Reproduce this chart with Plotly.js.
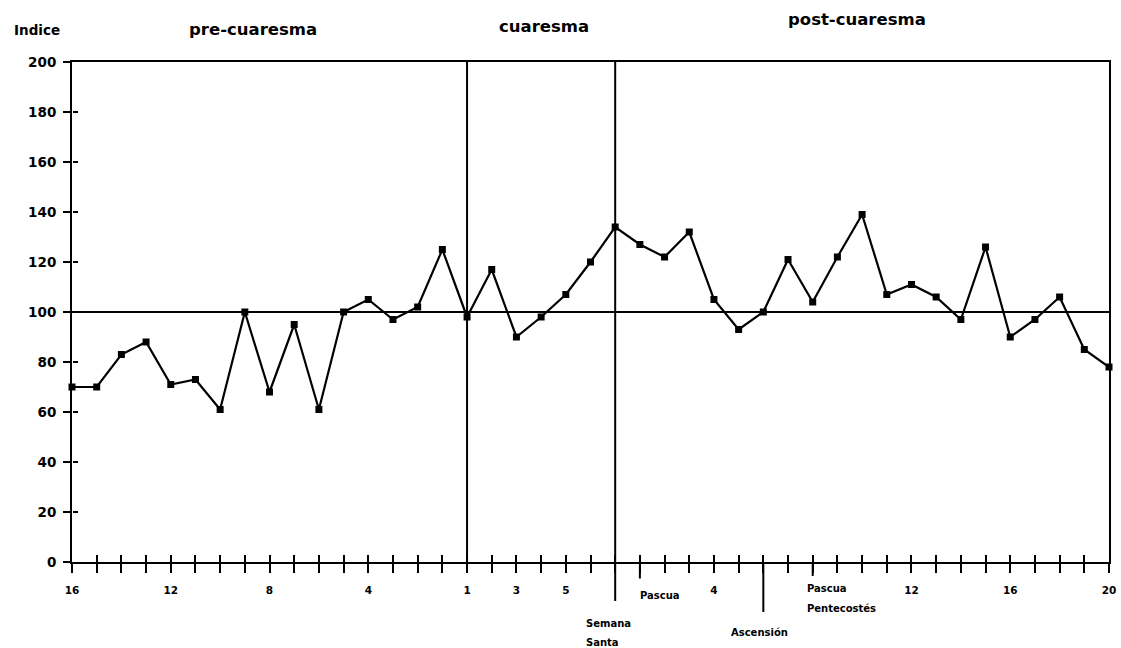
<!DOCTYPE html>
<html>
<head>
<meta charset="utf-8">
<script src="https://cdn.plot.ly/plotly-3.0.1.min.js"></script>
<style>html,body{margin:0;padding:0;background:#fff;}#chart{width:1121px;height:648px;}</style>
</head>
<body>
<div id="chart"></div>
<script>
// Week labels for each period
const preWeeks  = ['16','15','14','13','12','11','10','9','8','7','6','5','4','3','2','1'];
const lentWeeks = ['1','2','3','4','5','6'];
const holyWeek  = ['SS'];
const postWeeks = ['1','2','3','4','5','6','7','8','9','10','11','12','13','14','15','16','17','18','19','20'];

// Index values
const preValues  = [70, 70, 83, 88, 71, 73, 61, 100, 68, 95, 61, 100, 105, 97, 102, 125];
const lentValues = [98, 117, 90, 98, 107, 120];
const holyValue  = [134];
const postValues = [127, 122, 132, 105, 93, 100, 121, 104, 122, 139, 107, 111, 106, 97, 126, 90, 97, 106, 85, 78];

// Labelled ticks on the x axis
const shownTickLabels = ['16','12','8','4','1(c)','3(c)','5(c)','4(p)','12(p)','16(p)','20(p)'];

// Events marked below the axis
const eventKeys = ['SS', '1(p)', '6(p)', '8(p)'];

const baseline = 100;
const periodTitles = ['pre-cuaresma', 'cuaresma', 'post-cuaresma'];

// Build keys
const keys = [].concat(
  preWeeks, lentWeeks.map(w => w + '(c)'), holyWeek, postWeeks.map(w => w + '(p)')
);
const labels = [].concat(preWeeks, lentWeeks, [''], postWeeks);
const values = [].concat(preValues, lentValues, holyValue, postValues);
const xs = keys.map((k, i) => i);
const idx = k => keys.indexOf(k);

const tickText = keys.map((k, i) => shownTickLabels.includes(k) ? labels[i] : '');

const FAM = 'DejaVu Sans, Verdana, sans-serif';
const f = (size) => ({family: FAM, size: size, color: '#000', weight: 'bold'});

const trace = {
  x: xs, y: values, type: 'scatter', mode: 'lines+markers',
  line: {color: '#000', width: 2.2},
  marker: {color: '#000', size: 7, symbol: 'square'},
  cliponaxis: false, hoverinfo: 'skip'
};

const lentStart = idx('1(c)');
const holyIdx = idx('SS');

const shapes = [
  {type: 'line', xref: 'paper', yref: 'y', x0: 0, x1: 1, y0: baseline, y1: baseline, line: {color: '#000', width: 2}},
  {type: 'line', xref: 'x', yref: 'paper', x0: lentStart, x1: lentStart, y0: 0, y1: 1, line: {color: '#000', width: 2}},
  {type: 'line', xref: 'x', yref: 'paper', x0: holyIdx, x1: holyIdx, y0: 0, y1: 1, line: {color: '#000', width: 2}}
];
const eventDepth = [-0.078, -0.033, -0.1, -0.028];
eventKeys.forEach((k, j) => {
  shapes.push({type: 'line', xref: 'x', yref: 'paper', x0: idx(k), x1: idx(k), y0: 0, y1: eventDepth[j], line: {color: '#000', width: 2}});
});

const ann = (text, x, y, xanchor, size, xref) => ({
  text: text, xref: xref || 'x', yref: 'paper', x: x, y: y, xanchor: xanchor, yanchor: 'middle',
  showarrow: false, font: f(size)
});

const annotations = [
  ann('Indice', -0.0575, 1.064, 'left', 13.5, 'paper'),
  ann(periodTitles[0], 7.33, 1.064, 'center', 16.5),
  ann(periodTitles[1], 19.1, 1.07, 'center', 16.5),
  ann(periodTitles[2], 31.8, 1.084, 'center', 16.5),
  // events
  ann('Semana', holyIdx - 1.25, -0.122, 'left', 10),
  ann('Santa', holyIdx - 1.25, -0.16, 'left', 10),
  ann('Pascua', idx('1(p)') - 0.08, -0.066, 'left', 10),
  ann('Ascensión', idx('6(p)') - 0.15, -0.14, 'center', 10),
  ann('Pascua', idx('8(p)') - 0.33, -0.052, 'left', 10),
  ann('Pentecostés', idx('8(p)') - 0.33, -0.092, 'left', 10)
];

const layout = {
  width: 1121, height: 648,
  margin: {l: 72, r: 12, t: 62, b: 86},
  paper_bgcolor: '#fff', plot_bgcolor: '#fff',
  showlegend: false,
  font: f(12),
  xaxis: {
    range: [0, keys.length - 1], tickvals: xs, ticktext: tickText,
    ticks: 'outside', ticklen: 9, tickwidth: 2, tickcolor: '#000',
    showline: true, linewidth: 2, linecolor: '#000', mirror: true,
    showgrid: false, zeroline: false, tickangle: 0,
    tickfont: f(10.5), ticklabelstandoff: 8
  },
  xaxis2: {
    range: [0, keys.length - 1], overlaying: 'x', anchor: 'y', side: 'bottom',
    tickvals: xs, showticklabels: false, ticks: 'inside', ticklen: 7, tickwidth: 2, tickcolor: '#000',
    showline: false, showgrid: false, zeroline: false
  },
  yaxis: {
    range: [0, 200], dtick: 20, tick0: 0,
    ticks: 'outside', ticklen: 7, tickwidth: 2, tickcolor: '#000',
    showline: true, linewidth: 2, linecolor: '#000', mirror: true,
    showgrid: false, zeroline: false,
    tickfont: f(13.5), ticklabelstandoff: 4
  },
  yaxis2: {
    range: [0, 200], dtick: 20, tick0: 0, overlaying: 'y', anchor: 'free', position: 0, side: 'left',
    showticklabels: false, ticks: 'inside', ticklen: 5, tickwidth: 2, tickcolor: '#000',
    showline: false, showgrid: false, zeroline: false
  },
  shapes: shapes,
  annotations: annotations
};

const helperX = {x: [0, 42], y: [0, 200], xaxis: 'x2', yaxis: 'y', mode: 'markers', marker: {opacity: 0}, hoverinfo: 'skip'};
const helperY = {x: [0, 42], y: [0, 200], xaxis: 'x', yaxis: 'y2', mode: 'markers', marker: {opacity: 0}, hoverinfo: 'skip'};

Plotly.newPlot('chart', [helperX, helperY, trace], layout, {displayModeBar: false, staticPlot: true});
</script>
</body>
</html>
